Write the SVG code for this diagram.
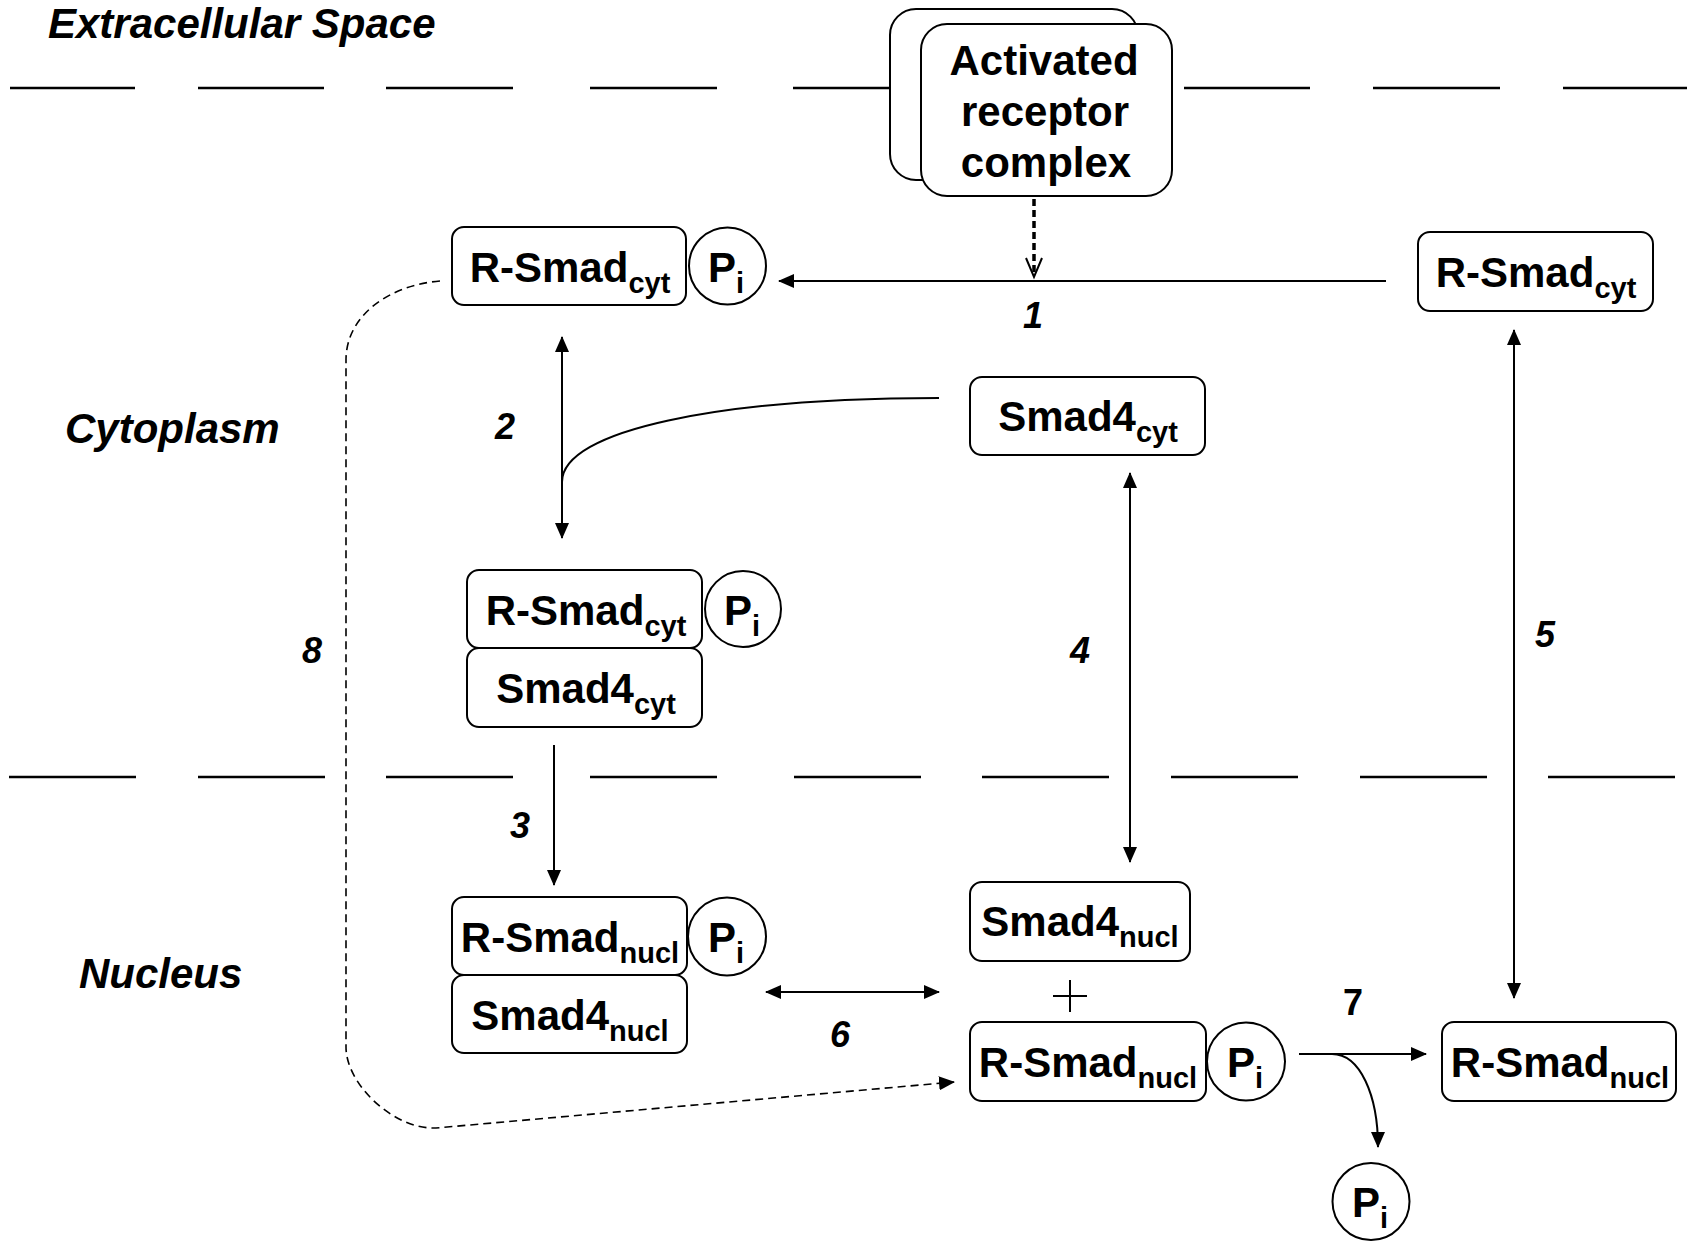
<svg xmlns="http://www.w3.org/2000/svg" width="1687" height="1241" viewBox="0 0 1687 1241">
<style>
.bg{fill:#fff}
.box{fill:#fff;stroke:#000;stroke-width:2}
.t{font-family:"Liberation Sans",Arial,sans-serif;font-weight:bold;font-size:42px;text-anchor:middle;fill:#000}
.s{font-size:29px}
.lbl{font-family:"Liberation Sans",Arial,sans-serif;font-weight:bold;font-style:italic;font-size:36px;text-anchor:middle;fill:#000}
.up{font-style:normal}
.reg{font-family:"Liberation Sans",Arial,sans-serif;font-weight:bold;font-style:italic;font-size:42px;fill:#000}
.ln{stroke:#000;stroke-width:2;fill:none}
.dash{stroke:#000;stroke-width:1.6;fill:none;stroke-dasharray:8 5}
.dot{stroke:#000;stroke-width:3.5;fill:none;stroke-dasharray:7 4}
.mem line{stroke:#000;stroke-width:2.5}
</style>
<defs>
<marker id="ah" viewBox="0 0 16 14" refX="15" refY="7" markerWidth="16" markerHeight="14" markerUnits="userSpaceOnUse" orient="auto-start-reverse">
<path d="M0,0 L16,7 L0,14 z" fill="#000"/>
</marker>
</defs>
<rect class="bg" x="0" y="0" width="1687" height="1241"/>

<g id="regions">
<text class="reg" x="48" y="38">Extracellular Space</text>
<text class="reg" x="65" y="443">Cytoplasm</text>
<text class="reg" x="79" y="988">Nucleus</text>
</g>

<g id="membranes" class="mem">
<line x1="10" y1="88" x2="135" y2="88"/>
<line x1="198" y1="88" x2="324" y2="88"/>
<line x1="386" y1="88" x2="513" y2="88"/>
<line x1="590" y1="88" x2="717" y2="88"/>
<line x1="793" y1="88" x2="900" y2="88"/>
<line x1="1184" y1="88" x2="1310" y2="88"/>
<line x1="1373" y1="88" x2="1500" y2="88"/>
<line x1="1563" y1="88" x2="1687" y2="88"/>
<line x1="9" y1="777" x2="136" y2="777"/>
<line x1="198" y1="777" x2="325" y2="777"/>
<line x1="386" y1="777" x2="513" y2="777"/>
<line x1="590" y1="777" x2="717" y2="777"/>
<line x1="794" y1="777" x2="921" y2="777"/>
<line x1="982" y1="777" x2="1109" y2="777"/>
<line x1="1171" y1="777" x2="1298" y2="777"/>
<line x1="1360" y1="777" x2="1487" y2="777"/>
<line x1="1548" y1="777" x2="1675" y2="777"/>
</g>

<g id="connectors">
<line class="dot" x1="1034" y1="199" x2="1034" y2="274"/>
<polyline class="ln" points="1026,258 1034,277 1042,258" stroke-width="3"/>
<line class="ln" x1="1386" y1="281" x2="779" y2="281" marker-end="url(#ah)"/>
<line class="ln" x1="562" y1="337" x2="562" y2="538" marker-start="url(#ah)" marker-end="url(#ah)"/>
<path class="ln" d="M939,398 C720,398 562,430 562,482"/>
<line class="ln" x1="554" y1="745" x2="554" y2="885" marker-end="url(#ah)"/>
<line class="ln" x1="1130" y1="473" x2="1130" y2="862" marker-start="url(#ah)" marker-end="url(#ah)"/>
<line class="ln" x1="1514" y1="330" x2="1514" y2="998" marker-start="url(#ah)" marker-end="url(#ah)"/>
<line class="ln" x1="766" y1="992" x2="939" y2="992" marker-start="url(#ah)" marker-end="url(#ah)"/>
<line class="ln" x1="1299" y1="1054" x2="1426" y2="1054" marker-end="url(#ah)"/>
<path class="ln" d="M1332,1054 C1360,1054 1378,1095 1378,1147" marker-end="url(#ah)"/>
<path class="dash" d="M440,281 C390,285 346,315 346,360 L346,1047 C346,1085 395,1130 436,1128 L954,1082" marker-end="url(#ah)"/>
<path class="ln" d="M1053,996 H1087 M1070,980 V1012" stroke-width="1.6"/>
</g>

<g id="labels">
<text class="lbl" x="1033" y="328">1</text>
<text class="lbl" x="505" y="439">2</text>
<text class="lbl" x="520" y="838">3</text>
<text class="lbl" x="1080" y="663">4</text>
<text class="lbl" x="1545" y="647">5</text>
<text class="lbl" x="840" y="1047">6</text>
<text class="lbl up" x="1353" y="1015">7</text>
<text class="lbl" x="312" y="663">8</text>
</g>

<g id="receptor">
<rect class="box" x="890" y="9" width="248" height="171" rx="26"/>
<rect class="box" x="921" y="24" width="251" height="172" rx="26"/>
<text class="t" x="1044" y="75">Activated</text>
<text class="t" x="1045" y="126">receptor</text>
<text class="t" x="1046" y="177">complex</text>
</g>

<g id="rsmad-cyt-p">
<rect class="box" x="452" y="227" width="234" height="78" rx="12"/>
<text class="t" x="570" y="282">R-Smad<tspan class="s" dy="11">cyt</tspan></text>
<circle class="box" cx="727.5" cy="266" r="38.5"/>
<text class="t" x="726" y="282">P<tspan class="s" dy="11">i</tspan></text>
</g>

<g id="rsmad-cyt">
<rect class="box" x="1418" y="232" width="235" height="79" rx="12"/>
<text class="t" x="1536" y="287">R-Smad<tspan class="s" dy="11">cyt</tspan></text>
</g>

<g id="smad4-cyt">
<rect class="box" x="970" y="377" width="235" height="78" rx="12"/>
<text class="t" x="1088" y="431">Smad4<tspan class="s" dy="11">cyt</tspan></text>
</g>

<g id="complex-cyt">
<rect class="box" x="467" y="570" width="235" height="78" rx="12"/>
<text class="t" x="586" y="625">R-Smad<tspan class="s" dy="11">cyt</tspan></text>
<circle class="box" cx="743" cy="609" r="38"/>
<text class="t" x="742" y="625">P<tspan class="s" dy="11">i</tspan></text>
<rect class="box" x="467" y="648" width="235" height="79" rx="12"/>
<text class="t" x="586" y="703">Smad4<tspan class="s" dy="11">cyt</tspan></text>
</g>

<g id="complex-nucl">
<rect class="box" x="452" y="897" width="235" height="78" rx="12"/>
<text class="t" x="570" y="952">R-Smad<tspan class="s" dy="11">nucl</tspan></text>
<circle class="box" cx="727" cy="936.5" r="39"/>
<text class="t" x="726" y="952">P<tspan class="s" dy="11">i</tspan></text>
<rect class="box" x="452" y="975" width="235" height="78" rx="12"/>
<text class="t" x="570" y="1030">Smad4<tspan class="s" dy="11">nucl</tspan></text>
</g>

<g id="smad4-nucl">
<rect class="box" x="970" y="882" width="220" height="79" rx="12"/>
<text class="t" x="1080" y="936">Smad4<tspan class="s" dy="11">nucl</tspan></text>
</g>

<g id="rsmad-nucl-p">
<rect class="box" x="970" y="1022" width="236" height="79" rx="12"/>
<text class="t" x="1088" y="1077">R-Smad<tspan class="s" dy="11">nucl</tspan></text>
<circle class="box" cx="1246" cy="1061.5" r="39"/>
<text class="t" x="1245" y="1077">P<tspan class="s" dy="11">i</tspan></text>
</g>

<g id="rsmad-nucl">
<rect class="box" x="1442" y="1022" width="234" height="79" rx="12"/>
<text class="t" x="1560" y="1077">R-Smad<tspan class="s" dy="11">nucl</tspan></text>
</g>

<g id="pi-free">
<ellipse class="box" cx="1371" cy="1201.5" rx="38.5" ry="38.5"/>
<text class="t" x="1370" y="1217">P<tspan class="s" dy="11">i</tspan></text>
</g>
</svg>
